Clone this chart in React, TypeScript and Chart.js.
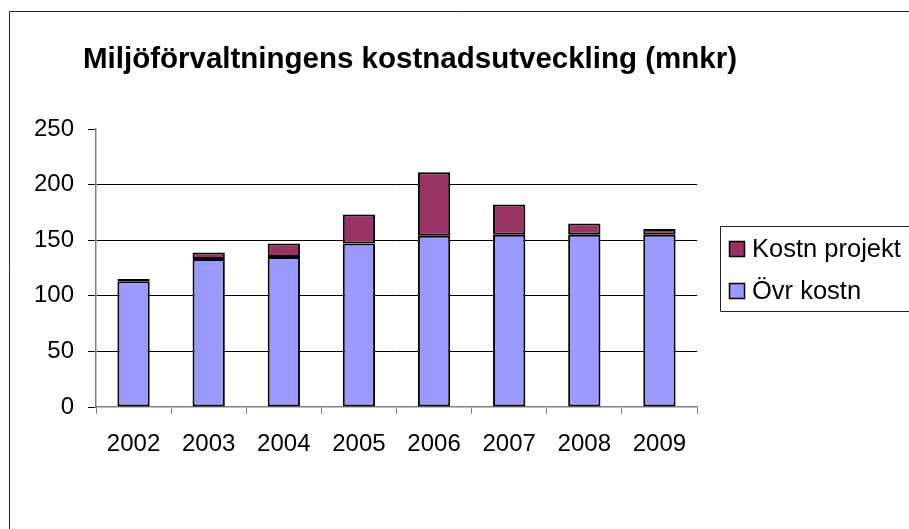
import React, { useEffect, useRef } from "react";
import { Chart, registerables } from "chart.js";

Chart.register(...registerables);

const TITLE = "Miljöförvaltningens kostnadsutveckling (mnkr)";
const years = ["2002", "2003", "2004", "2005", "2006", "2007", "2008", "2009"];
const ovrKostn = [113, 133, 135, 147, 154, 155, 155, 155];
const kostnProjekt = [2, 6, 12, 26, 57, 27, 10, 5];
const seriesNames = ["Övr kostn", "Kostn projekt"];
const seriesColors = ["#9999FF", "#993366"];
const yTicks = { min: 0, max: 250, step: 50 };

const FONT = '"Liberation Sans", Arial, sans-serif';

const decorPlugin = {
  id: "decor",
  beforeDraw(chart: any) {
    const ctx = chart.ctx;
    ctx.save();
    ctx.fillStyle = "#ffffff";
    ctx.fillRect(0, 0, chart.width, chart.height);
    // outer frame
    ctx.strokeStyle = "#222";
    ctx.lineWidth = 1;
    ctx.beginPath();
    ctx.moveTo(chart.width + 5, 11.5);
    ctx.lineTo(9.5, 11.5);
    ctx.lineTo(9.5, chart.height + 5);
    ctx.stroke();
    ctx.restore();
  },
  afterDraw(chart: any) {
    const ctx = chart.ctx;
    ctx.save();
    // title
    ctx.fillStyle = "#000";
    ctx.font = `bold 29.5px ${FONT}`;
    ctx.textAlign = "center";
    ctx.textBaseline = "alphabetic";
    ctx.fillText(TITLE, 410, 68);

    // legend
    ctx.strokeStyle = "#222";
    ctx.lineWidth = 1;
    ctx.beginPath();
    ctx.moveTo(chart.width + 5, 226.5);
    ctx.lineTo(720.5, 226.5);
    ctx.lineTo(720.5, 311.5);
    ctx.lineTo(chart.width + 5, 311.5);
    ctx.stroke();

    const ds = chart.data.datasets.slice().reverse();
    ds.forEach((d: any, i: number) => {
      const by = 241 + i * 42;
      ctx.fillStyle = d.backgroundColor;
      ctx.fillRect(729, by, 15, 15);
      ctx.strokeStyle = "#000";
      ctx.lineWidth = 1.5;
      ctx.strokeRect(729.5, by + 0.5, 15, 15);
      ctx.fillStyle = "#000";
      ctx.font = `25.5px ${FONT}`;
      ctx.textAlign = "left";
      ctx.textBaseline = "alphabetic";
      ctx.fillText(d.label, 752, by + 16);
    });
    ctx.restore();
  },
};

export default function App() {
  const ref = useRef<HTMLCanvasElement | null>(null);

  useEffect(() => {
    if (!ref.current) return;
    const chart = new Chart(ref.current, {
      type: "bar",
      data: {
        labels: years,
        datasets: [
          {
            label: seriesNames[0],
            data: ovrKostn,
            backgroundColor: seriesColors[0],
            borderColor: "#000",
            borderWidth: 2,
            borderSkipped: false,
            categoryPercentage: 1,
            barPercentage: 0.43,
          },
          {
            label: seriesNames[1],
            data: kostnProjekt,
            backgroundColor: seriesColors[1],
            borderColor: "#000",
            borderWidth: 2,
            borderSkipped: false,
            categoryPercentage: 1,
            barPercentage: 0.43,
          },
        ],
      },
      options: {
        responsive: false,
        animation: false,
        devicePixelRatio: 1,
        layout: { padding: { left: 0, right: 212, top: 129, bottom: 0 } },
        plugins: {
          legend: { display: false },
          title: { display: false },
          tooltip: { enabled: false },
        },
        scales: {
          x: {
            stacked: true,
            offset: true,
            grid: {
              offset: true,
              drawOnChartArea: false,
              drawTicks: true,
              tickLength: 7,
              tickColor: "#808080",
              tickWidth: 1,
            },
            border: { color: "#808080", width: 1.5 },
            ticks: {
              color: "#000",
              font: { family: FONT, size: 24 },
              padding: 16,
              maxRotation: 0,
            },
            afterFit(scale: any) {
              scale.height = 122;
            },
          },
          y: {
            stacked: true,
            min: yTicks.min,
            max: yTicks.max,
            grid: {
              color: (c: any) =>
                c.tick && (c.tick.value === yTicks.max || c.tick.value === 0)
                  ? "rgba(0,0,0,0)"
                  : "#000",
              lineWidth: 1,
              drawTicks: true,
              tickLength: 8,
              tickColor: "#000",
              tickWidth: 1,
            },
            border: { color: "#808080", width: 1.5 },
            ticks: {
              stepSize: yTicks.step,
              color: "#000",
              font: { family: FONT, size: 24 },
              padding: 14,
            },
            afterFit(scale: any) {
              scale.width = 96;
            },
          },
        },
      },
      plugins: [decorPlugin],
    });
    return () => chart.destroy();
  }, []);

  return (
    <div style={{ position: "absolute", left: 0, top: 0, width: 909, height: 529 }}>
      <canvas ref={ref} width={909} height={529} />
    </div>
  );
}
